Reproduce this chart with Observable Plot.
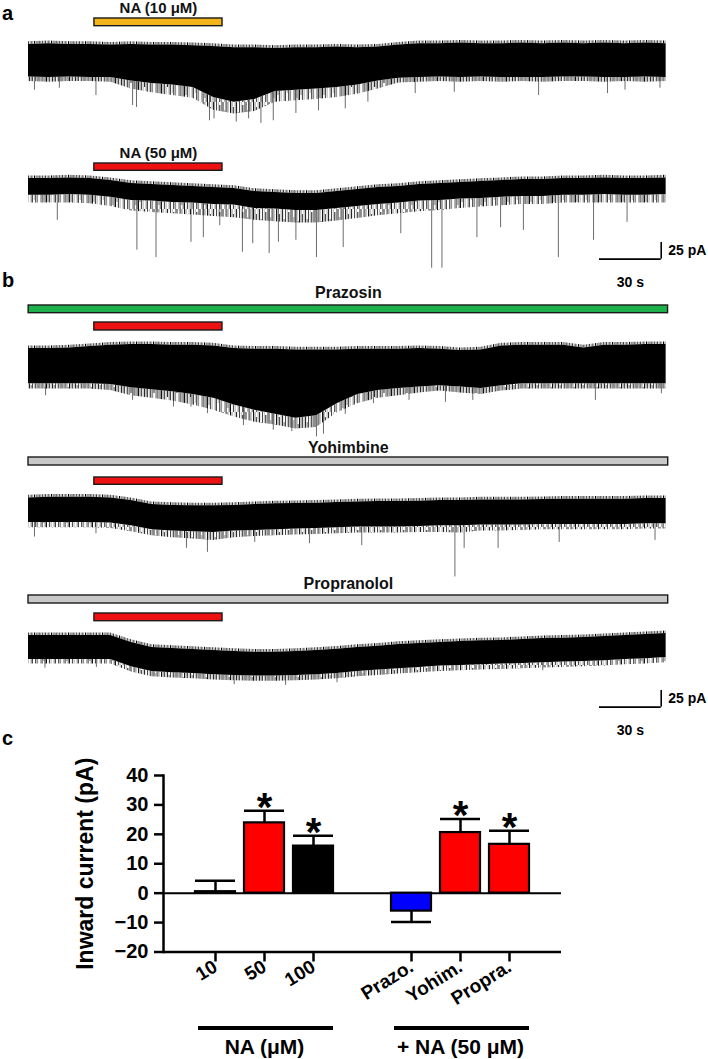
<!DOCTYPE html>
<html><head><meta charset="utf-8">
<script src="https://cdn.jsdelivr.net/npm/d3@7"></script>
<script src="https://cdn.jsdelivr.net/npm/@observablehq/plot@0.6"></script>
<style>
body{margin:0;background:#fff;}
#fig{position:relative;width:708px;height:1059px;overflow:hidden;background:#fff;}
</style></head><body>
<svg width="0" height="0" style="position:absolute;left:0;top:0">
  <defs>
    <pattern id="noiseHatch" patternUnits="userSpaceOnUse" width="23" height="37">
      <line x1="0.5" y1="0" x2="0.5" y2="37" stroke="#111" stroke-width="1"/>
      <line x1="2.0" y1="0" x2="2.0" y2="30" stroke="#666" stroke-width="0.8"/>
      <line x1="3.4" y1="5" x2="3.4" y2="37" stroke="#222" stroke-width="0.9"/>
      <line x1="5.1" y1="0" x2="5.1" y2="37" stroke="#888" stroke-width="0.7"/>
      <line x1="6.6" y1="0" x2="6.6" y2="22" stroke="#111" stroke-width="1"/>
      <line x1="8.2" y1="10" x2="8.2" y2="37" stroke="#555" stroke-width="0.8"/>
      <line x1="9.5" y1="0" x2="9.5" y2="37" stroke="#333" stroke-width="0.9"/>
      <line x1="11.3" y1="0" x2="11.3" y2="28" stroke="#999" stroke-width="0.7"/>
      <line x1="12.8" y1="3" x2="12.8" y2="37" stroke="#111" stroke-width="1"/>
      <line x1="14.6" y1="0" x2="14.6" y2="37" stroke="#666" stroke-width="0.8"/>
      <line x1="16.0" y1="0" x2="16.0" y2="18" stroke="#222" stroke-width="1"/>
      <line x1="17.7" y1="8" x2="17.7" y2="37" stroke="#777" stroke-width="0.7"/>
      <line x1="19.1" y1="0" x2="19.1" y2="37" stroke="#111" stroke-width="0.9"/>
      <line x1="20.9" y1="0" x2="20.9" y2="33" stroke="#555" stroke-width="0.8"/>
      <line x1="22.2" y1="12" x2="22.2" y2="37" stroke="#333" stroke-width="0.8"/>
    </pattern>
    <pattern id="edgeHatch" patternUnits="userSpaceOnUse" width="17" height="11">
      <line x1="0.5" y1="0" x2="0.5" y2="11" stroke="#000" stroke-width="1"/>
      <line x1="1.8" y1="0" x2="1.8" y2="11" stroke="#888" stroke-width="0.7"/>
      <line x1="3.0" y1="0" x2="3.0" y2="11" stroke="#222" stroke-width="0.9"/>
      <line x1="4.6" y1="0" x2="4.6" y2="11" stroke="#666" stroke-width="0.7"/>
      <line x1="5.9" y1="0" x2="5.9" y2="11" stroke="#000" stroke-width="0.9"/>
      <line x1="7.3" y1="0" x2="7.3" y2="11" stroke="#999" stroke-width="0.7"/>
      <line x1="8.6" y1="0" x2="8.6" y2="11" stroke="#333" stroke-width="0.9"/>
      <line x1="10.1" y1="0" x2="10.1" y2="11" stroke="#777" stroke-width="0.7"/>
      <line x1="11.4" y1="0" x2="11.4" y2="11" stroke="#111" stroke-width="0.9"/>
      <line x1="12.9" y1="0" x2="12.9" y2="11" stroke="#aaa" stroke-width="0.7"/>
      <line x1="14.2" y1="0" x2="14.2" y2="11" stroke="#222" stroke-width="0.9"/>
      <line x1="15.7" y1="0" x2="15.7" y2="11" stroke="#666" stroke-width="0.7"/>
    </pattern>
  </defs>
</svg>
<div id="fig"></div>
<script>
// ================= DATA =================
// sample times of the current traces (s)
const traceTimes = [0,10,20,30,40,50,60,70,80,90,100,110,120,130,140,150,160,170,180,190,200,210,220,230,240,250,260,270,280,290,300,310];

// Trace a1: NA 10 µM (pA, relative to initial holding current)
const na10Top    = [25,26,25,25,24,25,24,24,23,22,20,20,19,20,20,21,20,21,24,26,26,27,26,26,27,26,27,26,27,26,27,26];
const na10Core   = [-24,-25,-24,-25,-25,-30,-34,-36,-40,-55,-62,-58,-46,-44,-42,-40,-36,-30,-26,-25,-24,-25,-24,-25,-25,-25,-24,-24,-25,-25,-24,-25];
const na10Fringe = [-31,-32,-31,-31,-32,-42,-48,-52,-56,-74,-80,-76,-62,-60,-58,-55,-50,-42,-33,-32,-31,-32,-31,-32,-31,-32,-31,-31,-32,-31,-32,-31];
const na10Spikes = [[2.9,-44],[15,-41],[32.8,-52],[50.6,-67],[52.5,-70],[88,-90],[90.2,-87],[101,-92],[107,-87],[113,-94],[119,-90],[130,-79],[141,-75],[154,-72],[165,-62],[188,-49],[207,-47],[248,-52],[281.5,-49],[290,-44],[307,-41]];

// Trace a2: NA 50 µM
const na50Top    = [15,15,16,15,12,7.5,6,4.5,3,1.5,0,-4.5,-6,-7.5,-7.5,-4.5,-1.5,1.5,3,6,7.5,9,10.5,12,13.5,13.5,15,15,16,15,15,16];
const na50Core   = [-10,-10,-9,-10,-13,-18,-19,-21,-22,-24,-25,-30,-31,-33,-33,-30,-27,-24,-22,-19,-18,-16,-15,-13,-12,-12,-10,-10,-9,-10,-10,-9];
const na50Fringe = [-22,-22,-22,-23,-27,-34,-36,-38,-40,-42,-44,-48,-50,-52,-52,-49,-45,-41,-38,-35,-33,-30,-28,-26,-24,-24,-22,-22,-22,-22,-22,-22];
const na50Spikes = [[14,-48],[52.7,-93],[62,-104],[79,-81],[85,-74],[93,-56],[104,-96],[109,-83],[117,-98],[121.5,-81],[130,-78],[140,-104],[153,-89],[181,-68],[196,-120],[201,-120],[218,-74],[229.5,-59],[240.6,-63],[257.6,-104],[274.7,-78],[291,-51]];

// Trace b1: Prazosin + NA 50 µM
const przTop    = [27,27,28,30,32,33,33,32,32,31,27,26,26,25,25,25,26,26,26,27,26,24,25,31,32,32,32,28,32,32,33,33];
const przCore   = [-26,-26,-26,-26,-27,-32,-35,-38,-42,-48,-58,-66,-72,-78,-74,-56,-42,-36,-33,-31,-29,-31,-33,-29,-26,-26,-26,-26,-26,-26,-26,-26];
const przFringe = [-34,-34,-34,-34,-36,-44,-48,-52,-58,-66,-76,-84,-88,-94,-92,-70,-56,-48,-44,-40,-37,-40,-42,-37,-34,-34,-34,-34,-34,-34,-34,-34];
const przSpikes = [[8.3,-44],[50.6,-51],[70.5,-61],[79,-61],[87,-71],[104.5,-89],[119,-96],[128,-98],[140,-106],[143.4,-102],[154,-72],[167.7,-56],[185,-51],[202.7,-54],[216,-51],[275.6,-51],[307.7,-41]];

// Trace b2: Yohimbine + NA 50 µM
const yohTop    = [22,23,23,23,22,18,12,10.5,10,10,10.5,12,13,13.5,14,15,16,16.5,16.5,17,18,18,19,19,19,19.5,20,20,20,20,21,21];
const yohCore   = [-15,-15,-15,-15,-16,-20,-26,-28,-29,-30,-28,-27,-26,-25,-24,-23,-22,-22,-22,-21,-20,-20,-19,-19,-19,-18,-18,-18,-18,-18,-17,-17];
const yohFringe = [-23,-23,-23,-23,-24,-29,-35,-38,-40,-42,-38,-36,-35,-34,-33,-32,-31,-31,-31,-30,-30,-31,-28,-28,-27,-26,-26,-26,-26,-26,-25,-25];
const yohSpikes = [[2.9,-37],[32.8,-32],[76.8,-54],[87,-60],[110,-45],[136.6,-47],[162,-50],[207.3,-97],[211.8,-54],[228.3,-54],[258,-45],[304.6,-42]];

// Trace b3: Propranolol + NA 50 µM
const prpTop    = [21,21,21,21,21,10.5,3,1.5,0,-1.5,-3,-4,-4,-3,-1.5,0.5,3,5,7.5,9,10.5,12,13,13.5,15,16.5,17,18,19.5,21,22.5,24];
const prpCore   = [-15,-15,-15,-15,-15,-26,-33,-35,-36,-38,-39,-40,-40,-39,-38,-36,-33,-31,-29,-27,-25,-24,-23,-22,-21,-20,-19,-18,-17,-15,-14,-12];
const prpFringe = [-22,-22,-22,-22,-22,-34,-41,-43,-44,-46,-47,-48,-48,-47,-46,-44,-41,-39,-37,-35,-33,-32,-31,-30,-29,-28,-27,-26,-25,-23,-22,-20];
const prpSpikes = [[8,-28],[33,-27],[100,-53],[125,-54],[150,-50],[250,-32]];

// drug application windows (s)
const naWindow = [32, 94.3];
const antagonistWindow = [0, 311];
const naLabels = ["NA (10 μM)", "NA (50 μM)"];
const antagonistLabels = ["Prazosin", "Yohimbine", "Propranolol"];

// scale bars
const scaleBarSec = 30;
const scaleBarPA = 25;

// panel c bar chart
const barCats   = ["10", "50", "100", "Prazo.", "Yohim.", "Propra."];
const barMeans  = [0.5, 23.9, 16.0, -6.1, 20.6, 16.6];
const barSems   = [3.7, 4.1, 3.5, 3.7, 4.6, 4.6];
const barColors = ["#f2b31b", "#ff0000", "#000000", "#0000ff", "#ff0000", "#ff0000"];
const barSignif = [false, true, true, false, true, true];
const yTicks    = [-20, -10, 0, 10, 20, 30, 40];
const yTitle    = "Inward current (pA)";
const groupLabels = ["NA (μM)", "+ NA (50 μM)"];
const groupFirst  = ["10", "Prazo."];
const groupMid    = ["50", "Yohim."];
const groupLast   = ["100", "Propra."];
const panelLetters = ["a", "b", "c"];

// ================= LAYOUT =================
const FONT = '"Liberation Sans", Arial, Helvetica, sans-serif';
const fig = document.getElementById("fig");
function place(el, top) { el.style.position = "absolute"; el.style.left = "0px"; el.style.top = top + "px"; fig.appendChild(el); }
const T_END = 309.2;
const X_RANGE = [28, 664];
const PX_PER_PA = 16.6 / 25;
const EDGE_PA = 4; // ragged edge thickness (style)
const baseStyle = {fontFamily: FONT, background: "transparent", overflow: "visible"};

function tracePlot({top, height, yRef, tops, cores, fringes, spikes}) {
  const hi = (yRef - top) / PX_PER_PA;
  const lo = hi - height / PX_PER_PA;
  const rows = traceTimes.map((t, i) => ({t, top: tops[i], core: cores[i], fringe: fringes[i]}));
  const coreAt = d3.scaleLinear(traceTimes, cores);
  const svg = Plot.plot({
    width: 708, height, margin: 0, style: baseStyle,
    x: {domain: [0, T_END], range: X_RANGE, axis: null},
    y: {domain: [lo, hi], range: [height, 0], axis: null},
    marks: [
      Plot.ruleX(spikes, {x: d => d[0], y1: d => d[1], y2: d => coreAt(d[0]), stroke: "#5a5a5a", strokeWidth: 0.9}),
      Plot.areaY(rows, {x: "t", y1: "fringe", y2: "core", fill: "url(#noiseHatch)"}),
      Plot.areaY(rows, {x: "t", y1: "top", y2: d => d.top + EDGE_PA, fill: "url(#edgeHatch)"}),
      Plot.areaY(rows, {x: "t", y1: "core", y2: "top", fill: "#000"})
    ]
  });
  place(svg, top);
}

function appBar({barTop, barH, win, fill, label, labelBase, fontSize}) {
  const mt = 20;
  const marks = [Plot.rect([win], {x1: d => d[0], x2: d => d[1], fill, stroke: "#1a1a1a", strokeWidth: 1.4})];
  if (label) marks.push(Plot.text([label], {x: () => (win[0] + win[1]) / 2, frameAnchor: "top", lineAnchor: "bottom",
    textAnchor: "middle", dy: labelBase - barTop, fontSize, fontWeight: "bold", fill: "#111"}));
  const svg = Plot.plot({
    width: 708, height: mt + barH + 2, marginTop: mt, marginBottom: 2, marginLeft: 0, marginRight: 0, style: baseStyle,
    x: {domain: [0, T_END], range: X_RANGE, axis: null},
    marks
  });
  place(svg, barTop - mt);
}

function scaleBarPlot(vTop) {
  const mt = 6, h = 55, end = 307.6;
  const svg = Plot.plot({
    width: 708, height: h, margin: 0, style: baseStyle,
    x: {domain: [0, T_END], range: X_RANGE, axis: null},
    y: {domain: [0, scaleBarPA], range: [mt + scaleBarPA * PX_PER_PA, mt], axis: null},
    marks: [
      Plot.ruleY([0], {x1: () => end - scaleBarSec, x2: () => end, strokeWidth: 1.6}),
      Plot.ruleX([end], {y1: 0, y2: scaleBarPA, strokeWidth: 1.6}),
      Plot.text([`${scaleBarPA} pA`], {x: () => end, y: () => scaleBarPA / 2, dx: 7, textAnchor: "start", fontSize: 14, fontWeight: "bold"}),
      Plot.text([`${scaleBarSec} s`], {x: () => end - scaleBarSec / 2, y: () => 0, lineAnchor: "bottom", dy: 28, fontSize: 14, fontWeight: "bold"})
    ]
  });
  place(svg, vTop - mt);
}

// ----- panel a -----
appBar({barTop: 18.3, barH: 7.7, win: naWindow, fill: "#f2b31b", label: naLabels[0], labelBase: 13, fontSize: 15});
tracePlot({top: 28, height: 105, yRef: 60.5, tops: na10Top, cores: na10Core, fringes: na10Fringe, spikes: na10Spikes});
appBar({barTop: 162.7, barH: 7.3, win: naWindow, fill: "#ee1111", label: naLabels[1], labelBase: 157.5, fontSize: 15});
tracePlot({top: 172, height: 102, yRef: 188, tops: na50Top, cores: na50Core, fringes: na50Fringe, spikes: na50Spikes});
scaleBarPlot(241.7);

// ----- panel b -----
appBar({barTop: 305, barH: 7.7, win: antagonistWindow, fill: "#1db14c", label: antagonistLabels[0], labelBase: 298, fontSize: 16});
appBar({barTop: 322, barH: 8, win: naWindow, fill: "#ee1111"});
tracePlot({top: 338, height: 100, yRef: 366, tops: przTop, cores: przCore, fringes: przFringe, spikes: przSpikes});
appBar({barTop: 457, barH: 8, win: antagonistWindow, fill: "#c8c8c8", label: antagonistLabels[1], labelBase: 452, fontSize: 16});
appBar({barTop: 476.7, barH: 7.3, win: naWindow, fill: "#ee1111"});
tracePlot({top: 490, height: 95, yRef: 512, tops: yohTop, cores: yohCore, fringes: yohFringe, spikes: yohSpikes});
appBar({barTop: 595, barH: 8, win: antagonistWindow, fill: "#c8c8c8", label: antagonistLabels[2], labelBase: 588, fontSize: 16});
appBar({barTop: 613, barH: 7.7, win: naWindow, fill: "#ee1111"});
tracePlot({top: 628, height: 60, yRef: 649, tops: prpTop, cores: prpCore, fringes: prpFringe, spikes: prpSpikes});
scaleBarPlot(689.5);

// ----- panel c -----
const bars = barCats.map((cat, i) => ({cat, mean: barMeans[i], sem: barSems[i], color: barColors[i], sig: barSignif[i],
  err: barMeans[i] >= 0 ? barMeans[i] + barSems[i] : barMeans[i] - barSems[i]}));
const xBand = {type: "band", domain: ["10", "50", "100", " ", "Prazo.", "Yohim.", "Propra."], paddingInner: 0.175, paddingOuter: 0.58};
const cPlot = Plot.plot({
  width: 600, height: 280, marginTop: 30, marginBottom: 73.5, marginLeft: 163, marginRight: 39,
  style: baseStyle,
  x: {...xBand, axis: null},
  y: {domain: [-20, 40], axis: null},
  color: {type: "identity"},
  marks: [
    Plot.ruleY([0], {strokeWidth: 2}),
    Plot.ruleX(bars, {x: "cat", y1: "mean", y2: "err", strokeWidth: 2.5}),
    Plot.tickY(bars, {x: "cat", y: "err", strokeWidth: 2.5}),
    Plot.barY(bars, {x: "cat", y1: 0, y2: "mean", fill: "color", stroke: "#000", strokeWidth: 2.2}),
    Plot.text(bars.filter(d => d.sig), {x: "cat", y: "err", text: () => "*", fontSize: 40, fontWeight: "bold", lineAnchor: "bottom", dy: 10}),
    Plot.axisY({ticks: yTicks, tickSize: 9, tickPadding: 6, fontSize: 20, fontWeight: "bold", strokeWidth: 2.5, label: null}),
    Plot.axisX({ticks: barCats, tickSize: 10, tickPadding: 3, tickRotate: -32, fontSize: 19, fontWeight: "bold", strokeWidth: 2.5, label: null}),
    Plot.frame({anchor: "left", strokeWidth: 2.5}),
    Plot.ruleY([-20], {strokeWidth: 2.5})
  ]
});
place(cPlot, 745);

// y-axis title in its own strip sharing the chart's vertical frame
const titlePlot = Plot.plot({
  width: 40, height: 280, marginTop: 30, marginBottom: 73.5, marginLeft: 0, marginRight: 0,
  style: baseStyle,
  marks: [
    Plot.text([yTitle], {frameAnchor: "middle", rotate: -90, textAnchor: "middle", lineAnchor: "middle", fontSize: 23, fontWeight: "bold"})
  ]
});
titlePlot.style.position = "absolute"; titlePlot.style.left = "65px"; titlePlot.style.top = "745px";
fig.appendChild(titlePlot);

const groups = groupLabels.map((label, i) => ({label, first: groupFirst[i], mid: groupMid[i], last: groupLast[i]}));
const gPlot = Plot.plot({
  width: 600, height: 45, marginTop: 0, marginBottom: 0, marginLeft: 163, marginRight: 39,
  style: baseStyle,
  x: {...xBand, axis: null},
  marks: [
    Plot.ruleY(groups, {x1: "first", x2: "last", y: null, strokeWidth: 4, insetLeft: 3}),
    Plot.text(groups, {x: "mid", text: "label", frameAnchor: "bottom", lineAnchor: "bottom", dy: 3, fontSize: 21, fontWeight: "bold"})
  ]
});
place(gPlot, 1004.5);

// panel letters
const letterSvg = d3.create("svg").attr("width", 708).attr("height", 1059)
  .style("position", "absolute").style("left", "0px").style("top", "0px").style("pointer-events", "none");
letterSvg.selectAll("text").data(panelLetters).join("text")
  .attr("x", 2).attr("y", (d, i) => [20, 287, 745][i])
  .attr("font-family", FONT).attr("font-weight", "bold").attr("font-size", 20).text(d => d);
fig.appendChild(letterSvg.node());
</script>
</body></html>
